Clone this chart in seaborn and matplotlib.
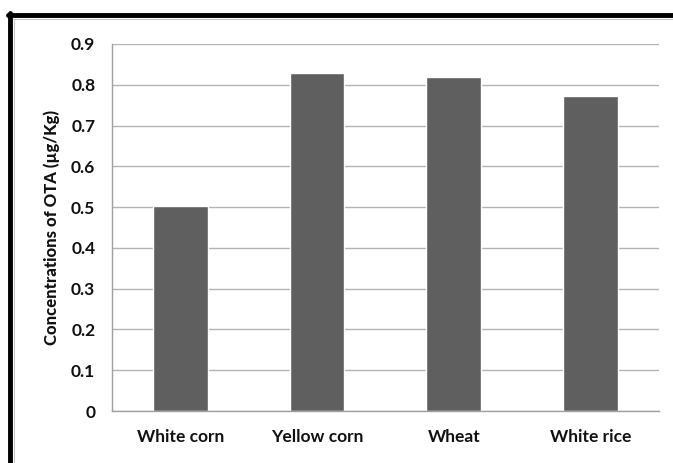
import matplotlib
matplotlib.use("Agg")
import matplotlib.pyplot as plt
from matplotlib.lines import Line2D
import numpy as np
import pandas as pd
import seaborn as sns

grains = ["White corn", "Yellow corn", "Wheat", "White rice"]
ota = [0.503, 0.830, 0.819, 0.773]
y_ticks = [0, 0.1, 0.2, 0.3, 0.4, 0.5, 0.6, 0.7, 0.8, 0.9]
y_labels = ["0", "0.1", "0.2", "0.3", "0.4", "0.5", "0.6", "0.7", "0.8", "0.9"]

sns.set_theme(style="white")
plt.rcParams['font.family'] = ['Lato', 'DejaVu Sans']

df = pd.DataFrame({"grain": grains, "ota": ota})

fig = plt.figure(figsize=(6.73, 4.63), dpi=100)
ax = fig.add_axes([0.1664, 0.1123, 0.8126, 0.7927])

sns.barplot(data=df, x="grain", y="ota", order=grains, color="#5f5f5f",
            saturation=1, width=0.4, ax=ax)

ax.set_ylim(0, 0.9)
ax.set_xlim(-0.5, len(grains) - 0.5)
ax.set_yticks(y_ticks)
ax.set_yticklabels(y_labels, fontweight="bold", fontsize=12.5)
ax.set_xticks(range(len(grains)))
ax.set_xticklabels(grains, fontweight="bold", fontsize=12.5)
ax.set_xticks(np.arange(-0.5, len(grains), 1.0), minor=True)
ax.tick_params(axis="x", which="major", length=0, pad=13, colors="#111111")
ax.tick_params(axis="x", which="minor", length=6, width=1, color="#a0a0a0", direction="out")
ax.tick_params(axis="y", length=6, width=1, direction="out", pad=6, colors="#111111")
ax.tick_params(axis="y", color="#a0a0a0")

ax.yaxis.grid(True, color="#b4b4b4", linewidth=1)
ax.set_axisbelow(True)
for side in ["top", "right"]:
    ax.spines[side].set_visible(False)
for side in ["left", "bottom"]:
    ax.spines[side].set_color("#a0a0a0")
    ax.spines[side].set_linewidth(1)

ax.set_xlabel("")
ax.set_ylabel("Concentrations of OTA (\u00b5g/Kg)", fontweight="black", fontsize=12,
              labelpad=8, color="#111111")

# black frame along the top and left edge
fig.add_artist(Line2D([0.012, 1.0], [0.968, 0.968], transform=fig.transFigure, color="black", linewidth=3.5))
fig.add_artist(Line2D([0.015, 0.015], [0.972, 0.0], transform=fig.transFigure, color="black", linewidth=3.5))
fig.add_artist(Line2D([0.02, 1.0], [0.958, 0.958], transform=fig.transFigure, color="#c8c8c8", linewidth=0.8))
fig.add_artist(Line2D([0.021, 0.021], [0.958, 0.0], transform=fig.transFigure, color="#c8c8c8", linewidth=0.8))

fig.savefig("out.png", dpi=100)
